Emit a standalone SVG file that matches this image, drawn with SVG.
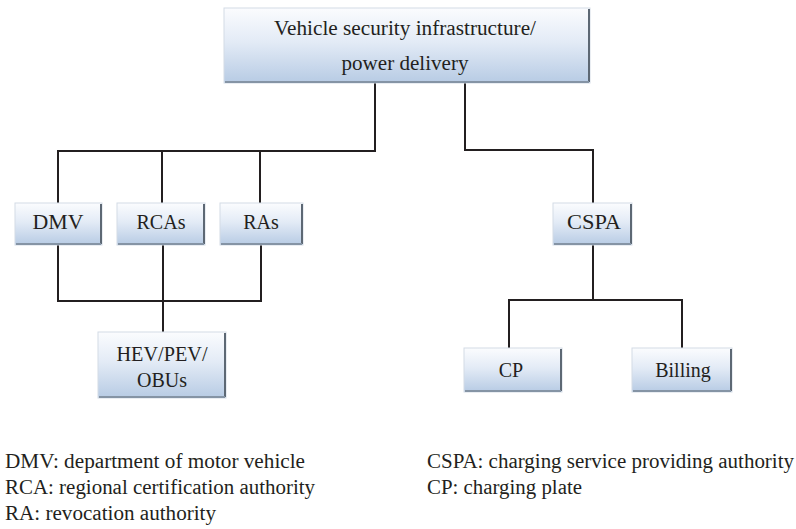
<svg xmlns="http://www.w3.org/2000/svg" width="796" height="529" viewBox="0 0 796 529">
<defs>
<linearGradient id="g" x1="0" y1="0" x2="0" y2="1">
<stop offset="0" stop-color="#fbfcfe"/>
<stop offset="0.45" stop-color="#e3ebf6"/>
<stop offset="1" stop-color="#b7cbe4"/>
</linearGradient>
</defs>
<style>
.box{fill:url(#g);stroke:#d3dbe5;stroke-width:1}
.bev{fill:none;stroke:#5d6874;stroke-width:2}
.bot{fill:none;stroke:#8594a5;stroke-width:2}
text{font-family:'Liberation Serif','Times New Roman','DejaVu Serif',serif;fill:#231f20}
.lbl{font-size:20px;text-anchor:middle}
.leg{font-size:20px}
.ln{fill:none;stroke:#231f20;stroke-width:2}
</style>
<g id="connectors">
<path class="ln" d="M375,83 V151 H58 V203"/>
<path class="ln" d="M162,151 V203"/>
<path class="ln" d="M260,151 V203"/>
<path class="ln" d="M58,245 V301 H261 V245"/>
<path class="ln" d="M163,245 V332"/>
<path class="ln" d="M465,83 V150 H593 V203"/>
<path class="ln" d="M593,245 V300"/>
<path class="ln" d="M509,348 V300 H682 V348"/>
</g>
<g id="top">
<rect class="box" x="224" y="8" width="366" height="75"/>
<path class="bev" d="M589,9 V82"/>
<path class="bot" d="M225,82 H589"/>
<text class="lbl" x="405" y="35" font-size="21" textLength="262" lengthAdjust="spacingAndGlyphs">Vehicle security infrastructure/</text>
<text class="lbl" x="405" y="70" font-size="21" textLength="127" lengthAdjust="spacingAndGlyphs">power delivery</text>
</g>
<g id="dmv">
<rect class="box" x="15" y="203" width="87" height="42"/>
<path class="bev" d="M101,204 V244"/>
<path class="bot" d="M16,244 H101"/>
<text class="lbl" x="58" y="229" textLength="51" lengthAdjust="spacingAndGlyphs">DMV</text>
</g>
<g id="rcas">
<rect class="box" x="117" y="203" width="88" height="42"/>
<path class="bev" d="M204,204 V244"/>
<path class="bot" d="M118,244 H204"/>
<text class="lbl" x="161" y="229" textLength="49" lengthAdjust="spacingAndGlyphs">RCAs</text>
</g>
<g id="ras">
<rect class="box" x="220" y="203" width="83" height="42"/>
<path class="bev" d="M302,204 V244"/>
<path class="bot" d="M221,244 H302"/>
<text class="lbl" x="261" y="229">RAs</text>
</g>
<g id="hev">
<rect class="box" x="98" y="332" width="128" height="66"/>
<path class="bev" d="M225,333 V397"/>
<path class="bot" d="M99,397 H225"/>
<text class="lbl" x="162" y="361" textLength="91" lengthAdjust="spacingAndGlyphs">HEV/PEV/</text>
<text class="lbl" x="162" y="387">OBUs</text>
</g>
<g id="cspa">
<rect class="box" x="553" y="203" width="79" height="42"/>
<path class="bev" d="M631,204 V244"/>
<path class="bot" d="M554,244 H631"/>
<text class="lbl" x="594" y="229" textLength="54" lengthAdjust="spacingAndGlyphs">CSPA</text>
</g>
<g id="cp">
<rect class="box" x="464" y="348" width="98" height="44"/>
<path class="bev" d="M561,349 V391"/>
<path class="bot" d="M465,391 H561"/>
<text class="lbl" x="511" y="377">CP</text>
</g>
<g id="billing">
<rect class="box" x="632" y="348" width="100" height="44"/>
<path class="bev" d="M731,349 V391"/>
<path class="bot" d="M633,391 H731"/>
<text class="lbl" x="683" y="377">Billing</text>
</g>
<g id="legend">
<text class="leg" x="5" y="468" textLength="300" lengthAdjust="spacingAndGlyphs">DMV: department of motor vehicle</text>
<text class="leg" x="5" y="494" textLength="310" lengthAdjust="spacingAndGlyphs">RCA: regional certification authority</text>
<text class="leg" x="5" y="520" textLength="211" lengthAdjust="spacingAndGlyphs">RA: revocation authority</text>
<text class="leg" x="427" y="468" textLength="367" lengthAdjust="spacingAndGlyphs">CSPA: charging service providing authority</text>
<text class="leg" x="427" y="494" textLength="155" lengthAdjust="spacingAndGlyphs">CP: charging plate</text>
</g>
</svg>
